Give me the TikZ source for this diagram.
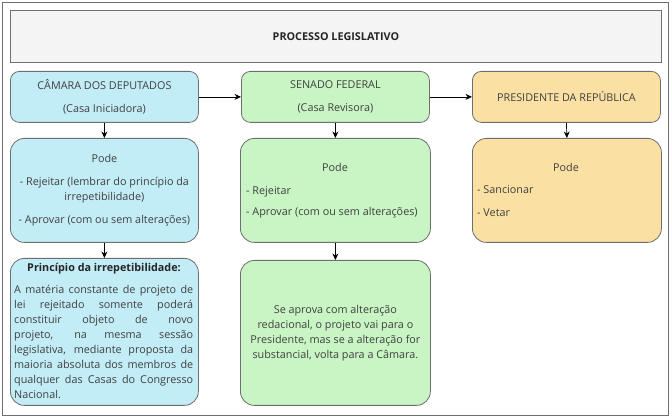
\documentclass[tikz,border=0pt]{standalone}
\usepackage{fontspec}
\setmainfont{Open Sans}
\usetikzlibrary{arrows.meta}
\definecolor{bordercol}{HTML}{6E6E6E}
\definecolor{txt}{HTML}{404040}
\definecolor{bluefill}{HTML}{C2ECF6}
\definecolor{greenfill}{HTML}{C8F5C3}
\definecolor{orangefill}{HTML}{FBE0A4}
\definecolor{titlefill}{HTML}{F4F4F4}
\tikzset{
  box/.style={draw=bordercol, line width=0.8pt, inner sep=0pt, anchor=north west, text=txt,
    font=\fontsize{10.8}{15}\selectfont, align=center},
  hdr/.style={box, rounded corners=9pt, minimum height=51pt},
  podebox/.style={box, rounded corners=14pt},
  tx/.style={inner sep=0pt, text=txt, font=\fontsize{10.8}{15}\selectfont},
  arr/.style={-{Stealth[length=6.5pt,width=6pt]}, line width=0.7pt, black},
}
\begin{document}
\begin{tikzpicture}[x=1pt,y=-1pt]
\useasboundingbox (0,0) rectangle (672,419);
\node[draw=bordercol, line width=0.8pt, inner sep=0pt, anchor=north west, minimum width=666pt, minimum height=413pt] (frame) at (2,2) {};
\node[box, fill=titlefill, minimum width=651pt, minimum height=52pt, font=\fontsize{10.8}{15}\selectfont\bfseries, text=black!85] (title) at (10,10) {PROCESSO LEGISLATIVO};
% headers
\node[hdr, fill=bluefill, minimum width=188pt] (cam) at (10,71) {CÂMARA DOS DEPUTADOS\\[8pt](Casa Iniciadora)};
\node[hdr, fill=greenfill, minimum width=188pt] (sen) at (241,71) {SENADO FEDERAL\\[8pt](Casa Revisora)};
\node[hdr, fill=orangefill, minimum width=188pt] (pres) at (472,71) {PRESIDENTE DA REPÚBLICA};
% pode boxes
\node[podebox, fill=bluefill, minimum width=188pt, minimum height=104pt] (campode) at (10,138)
  {Pode\\[8pt]- Rejeitar (lembrar do princípio da\\irrepetibilidade)\\[8pt]- Aprovar (com ou sem alterações)};
\node[podebox, fill=greenfill, minimum width=190pt, minimum height=104pt] (senpode) at (240,138) {};
\node[podebox, fill=orangefill, minimum width=189pt, minimum height=104pt] (prespode) at (472,138) {};
\node[tx] (senpodet) at (335,167) {Pode};
\node[tx, anchor=west, align=left] (senpodel) at (246,202) {- Rejeitar\\[6pt]- Aprovar (com ou sem alterações)};
\node[tx] (prespodet) at (566,167) {Pode};
\node[tx, anchor=west, align=left] (prespodel) at (477,201.5) {- Sancionar\\[8pt]- Vetar};
% third row
\node[podebox, fill=bluefill, minimum width=188pt, minimum height=147pt] (princ) at (10,258) {};
\node[tx, font=\fontsize{10.8}{15}\selectfont\bfseries, text=black!85] (princt) at (104,269) {Princípio da irrepetibilidade:};
\node[tx, anchor=north west, text width=179pt, align=justify] (princb) at (14,285)
  {A matéria constante de projeto de\linebreak lei rejeitado somente poderá\linebreak constituir objeto de novo\linebreak projeto, na mesma sessão\linebreak legislativa, mediante proposta da\linebreak maioria absoluta dos membros de\linebreak qualquer das Casas do Congresso\linebreak Nacional.};
\node[podebox, fill=greenfill, minimum width=190pt, minimum height=145pt] (senalt) at (240,260)
  {Se aprova com alteração\\redacional, o projeto vai para o\\Presidente, mas se a alteração for\\substancial, volta para a Câmara.};
% arrows
\draw[arr] (cam.east) -- (sen.west);
\draw[arr] (sen.east) -- (pres.west);
\draw[arr] (cam.south) -- (campode.north);
\draw[arr] (sen.south) -- (senpode.north);
\draw[arr] (pres.south) -- (prespode.north);
\draw[arr] (campode.south) -- (princ.north);
\draw[arr] (senpode.south) -- (senalt.north);
\end{tikzpicture}
\end{document}
